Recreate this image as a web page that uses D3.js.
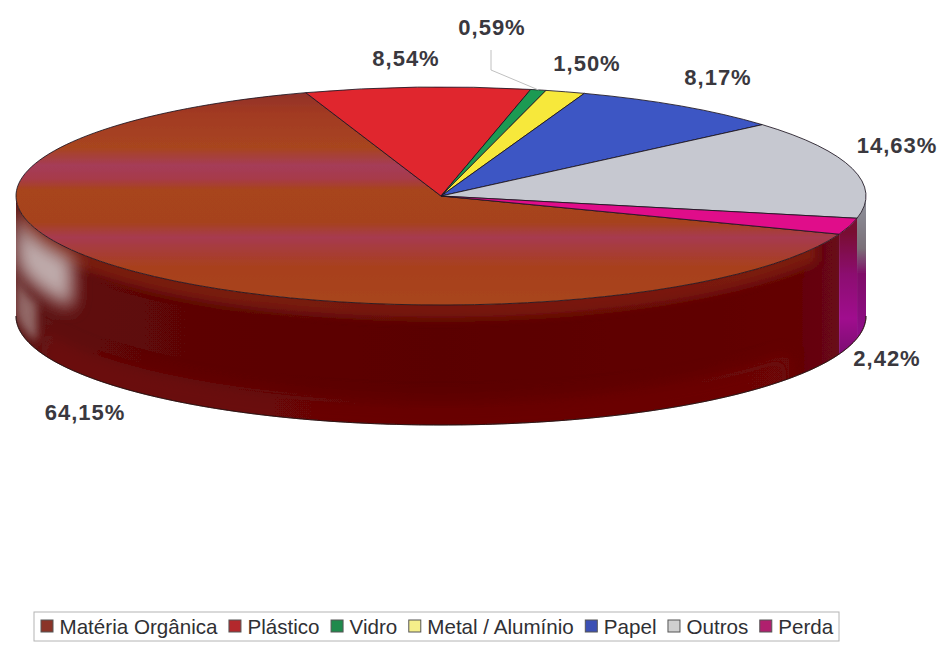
<!DOCTYPE html>
<html><head><meta charset="utf-8">
<script src="https://cdn.jsdelivr.net/npm/d3@7"></script>
<style>html,body{margin:0;background:#fff}svg{display:block}</style></head>
<body><svg id="c" width="942" height="645"></svg>
<script>
const categories=["Matéria Orgânica","Plástico","Vidro","Metal / Alumínio","Papel","Outros","Perda"];
const values=[64.15,8.54,0.59,1.50,8.17,14.63,2.42];
const labels=["64,15%","8,54%","0,59%","1,50%","8,17%","14,63%","2,42%"];
const topColors=["url(#topM)","#e0262f","#1f9a52","#f7e83a","#3c57c4","#c6c8d0","#e0108a"];
const sideColors=["url(#sideM)","#8a1515","#0f5a30","#8a8020","#202f70","url(#sideO)","url(#sideP)"];
const legendColors=["#8a3428","#b3282c","#1f8a4c","#f5ef8a","#3c50b4","#d0d0d0","#b0206e"];
const labelPos=[[85,412],[406,58],[492,27],[587,63],[718,77],[897,145],[887,358]];

const cx=441,cy=196,rx=425,ry=109,depth=120;
const deg=Math.PI/180, start=-249.5*deg;
const svg=d3.select("#c"), defs=svg.append("defs");
function grad(id,attrs,stops){
  const g=defs.append("linearGradient").attr("id",id);
  Object.entries(attrs).forEach(([k,v])=>g.attr(k,v));
  g.attr("gradientUnits","userSpaceOnUse");
  stops.forEach(s=>g.append("stop").attr("offset",s[0]).attr("stop-color",s[1]).attr("stop-opacity",s[2]==null?1:s[2]));
}
grad("topM",{x1:0,x2:0,y1:-rx,y2:rx},[[0,"#8c2f2c"],[.12,"#a23a22"],[.28,"#a8451f"],[.36,"#a53c58"],[.42,"#a73a4a"],[.47,"#a8441c"],[.62,"#a6431c"],[.69,"#a73a50"],[.74,"#a73c3c"],[.82,"#a8401f"],[1,"#a8451f"]]);
grad("sideM",{x1:cx-rx,x2:cx+rx,y1:0,y2:0},[[0,"#5e1a1a"],[.1,"#5e0808"],[.5,"#5a0000"],[.8,"#600202"],[.92,"#640404"],[1,"#6a0a2a"]]);
grad("sideP",{x1:0,x2:0,y1:cy+35,y2:cy+160},[[0,"#781030"],[.35,"#8c0f70"],[.7,"#a0108e"],[1,"#7a0a70"]]);
grad("sideO",{x1:0,x2:0,y1:cy+15,y2:cy+140},[[0,"#8a8a94"],[.3,"#7a7078"],[.5,"#800f68"],[1,"#90108a"]]);
function blur(id,s){defs.append("filter").attr("id",id).attr("filterUnits","userSpaceOnUse")
  .attr("x",0).attr("y",0).attr("width",942).attr("height",645)
  .append("feGaussianBlur").attr("stdDeviation",s);}
blur("soft",0.6);blur("b4",4);blur("b7",9);

const pie=d3.pie().sort(null).startAngle(start).endAngle(start+2*Math.PI);
const arcs=pie(values);
const px=a=>cx+rx*Math.sin(a), py=a=>cy-ry*Math.cos(a);
const chart=svg.append("g").attr("filter","url(#soft)");

function wall(a0,a1,dy0,dy1){
  const n=Math.max(2,Math.ceil((a1-a0)/deg)), as=d3.range(n+1).map(i=>a0+(a1-a0)*i/n);
  const up=d3.line().x(a=>px(a)).y(a=>py(a)+dy0)(as);
  const lo=d3.line().x(a=>px(a)).y(a=>py(a)+dy1)(as.slice().reverse());
  return up+"L"+lo.slice(1)+"Z";
}
defs.append("clipPath").attr("id","wallClip").append("path").attr("d",wall(90*deg,270*deg,0,depth));
const walls=[];
arcs.forEach(d=>{[-2,0,2].forEach(k=>{
  const a=Math.max(d.startAngle+k*Math.PI,90*deg), b=Math.min(d.endAngle+k*Math.PI,270*deg);
  if(b>a) walls.push({i:d.index,a,b});
});});
chart.selectAll("path.wall").data(walls).join("path").attr("class","wall")
  .attr("d",d=>wall(d.a,d.b,0,depth)).attr("fill",d=>sideColors[d.i]);

// shading on the wall of the largest slice
const shade=chart.append("g").attr("clip-path","url(#wallClip)");
const shades=[
  [118,262,-8,14,"#8a2a12",.6,"b4"],
  [125,250,95,135,"#7c1010",.45,"b7"],
  [240,272,8,58,"#c9bcbc",.9,"b7"],
  [252,272,74,112,"#a88a88",.7,"b4"]
];
shade.selectAll("path").data(shades).join("path")
  .attr("d",s=>wall(s[0]*deg,s[1]*deg,s[2],s[3])).attr("fill",s=>s[4]).attr("opacity",s=>s[5]).attr("filter",s=>`url(#${s[6]})`);
chart.append("path").attr("d",wall(90*deg,270*deg,depth,depth)).attr("fill","none").attr("stroke","#2a1010").attr("stroke-width",1).attr("stroke-opacity",.7);

// top face
const arc=d3.arc().innerRadius(0).outerRadius(rx);
const face=chart.append("g").attr("transform",`translate(${cx},${cy}) scale(1,${ry/rx})`);
face.selectAll("path").data(arcs).join("path").attr("d",arc)
  .attr("fill",d=>topColors[d.index]).attr("stroke","#1c1420").attr("stroke-width",1)
  .attr("stroke-opacity",.85).attr("vector-effect","non-scaling-stroke");

// leader line of the smallest slice
const mid=(arcs[2].startAngle+arcs[2].endAngle)/2;
svg.append("path").attr("d",d3.line()([[labelPos[2][0]-1,labelPos[2][1]+23],[labelPos[2][0]-1,labelPos[2][1]+43],[px(mid),py(mid)]]))
  .attr("fill","none").attr("stroke","#c0c0c0").attr("stroke-width",1);

// labels
svg.selectAll("text.lab").data(labels).join("text").attr("class","lab")
  .attr("x",(d,i)=>labelPos[i][0]).attr("y",(d,i)=>labelPos[i][1])
  .attr("text-anchor","middle").attr("dominant-baseline","central")
  .attr("font-family","'Liberation Sans',Arial,sans-serif").attr("font-weight",700).attr("font-size",22)
  .attr("letter-spacing",1).attr("fill","#3a383e").text(d=>d);

// legend
const lg=svg.append("g");
lg.append("rect").attr("x",34).attr("y",612).attr("width",805).attr("height",29).attr("fill","#fff").attr("stroke","#b4b4b4").attr("stroke-width",1);
let x=41;
categories.forEach((c,i)=>{
  lg.append("rect").attr("x",x).attr("y",620).attr("width",12).attr("height",12)
    .attr("fill",legendColors[i]).attr("stroke","#555").attr("stroke-width",1);
  const t=lg.append("text").attr("x",x+18.5).attr("y",634).attr("font-family","'Liberation Sans',Arial,sans-serif")
    .attr("font-size",20.6).attr("fill","#303034").text(c);
  x+=18.5+t.node().getComputedTextLength()+11.5;
});
</script></body></html>
